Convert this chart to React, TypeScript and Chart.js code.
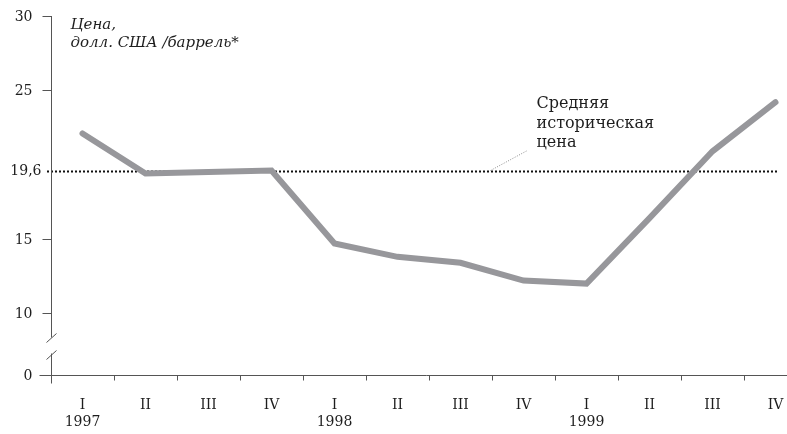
import React, { useEffect, useRef } from 'react';
import { Chart, registerables } from 'chart.js';

Chart.register(...registerables);

// ---- data ----
const quarters = ['I', 'II', 'III', 'IV', 'I', 'II', 'III', 'IV', 'I', 'II', 'III', 'IV'];
const years = ['1997', '', '', '', '1998', '', '', '', '1999', '', '', ''];
const prices = [22.1, 19.4, 19.5, 19.6, 14.7, 13.8, 13.4, 12.2, 12.0, 16.4, 20.9, 24.2];
const averagePrice = 19.6;
const yTickValues = [0, 10, 15, 19.6, 25, 30];
const yTickLabels = ['0', '10', '15', '19,6', '25', '30'];
const titleLines = ['Цена,', 'долл. США /баррель*'];
const annotationLines = ['Средняя', 'историческая', 'цена'];

// broken axis: values below BREAK_VALUE are drawn at ZERO_POSITION
const BREAK_VALUE = 10;
const ZERO_POSITION = 5.85;
const Y_MAX = 30;

const FONT = '"DejaVu Serif", serif';
const TEXT_COLOR = '#1e1e1e';
const AXIS_COLOR = '#555555';
const LINE_COLOR = '#97979b';

const mapValue = (v: number) => (v < BREAK_VALUE ? ZERO_POSITION : v);

const decorPlugin = {
  id: 'decor',
  beforeDatasetsDraw(chart: any) {
    const { ctx, scales } = chart;
    const x = scales.x;
    const y = scales.y;
    const axisX = chart.chartArea.left;
    const avgY = Math.round(y.getPixelForValue(averagePrice)) + 0.5;
    ctx.save();
    // dotted average line
    ctx.strokeStyle = '#111111';
    ctx.lineWidth = 2;
    ctx.setLineDash([2, 2]);
    ctx.beginPath();
    ctx.moveTo(axisX - 4, avgY);
    ctx.lineTo(x.getPixelForValue(prices.length - 1) + 2, avgY);
    ctx.stroke();
    // leader line to annotation
    const sx = x.getPixelForValue(6) + 30;
    ctx.strokeStyle = '#8a8a8a';
    ctx.lineWidth = 1;
    ctx.setLineDash([1, 1.5]);
    ctx.beginPath();
    ctx.moveTo(sx, avgY - 1);
    ctx.lineTo(sx + 36, 151);
    ctx.stroke();
    ctx.setLineDash([]);
    // annotation text
    ctx.fillStyle = TEXT_COLOR;
    ctx.font = `16px ${FONT}`;
    ctx.textAlign = 'left';
    ctx.textBaseline = 'alphabetic';
    annotationLines.forEach((t, i) => ctx.fillText(t, sx + 46, 108 + i * 19.5));
    ctx.restore();
  },
  afterDraw(chart: any) {
    const { ctx, scales, chartArea } = chart;
    const x = scales.x;
    const y = scales.y;
    const axisX = Math.round(chartArea.left) + 0.5;
    const zeroY = Math.round(y.getPixelForValue(ZERO_POSITION)) + 0.5;
    const topY = y.getPixelForValue(Y_MAX);
    const breakTop = zeroY - 38;
    const breakBottom = zeroY - 22;
    const band = x.width / quarters.length;
    ctx.save();
    ctx.strokeStyle = AXIS_COLOR;
    ctx.lineWidth = 1;
    // y axis with break
    ctx.beginPath();
    ctx.moveTo(axisX, topY);
    ctx.lineTo(axisX, breakTop);
    ctx.moveTo(axisX, breakBottom);
    ctx.lineTo(axisX, zeroY + 8);
    // break slashes
    ctx.moveTo(axisX - 5, breakTop + 5);
    ctx.lineTo(axisX + 5, breakTop - 4);
    ctx.moveTo(axisX - 5, breakBottom + 6);
    ctx.lineTo(axisX + 5, breakBottom - 3);
    // x axis
    ctx.moveTo(axisX - 12, zeroY);
    ctx.lineTo(chartArea.right + 10, zeroY);
    // x ticks between categories
    for (let i = 0; i < quarters.length; i++) {
      const px = Math.round(x.getPixelForValue(i) + band / 2) + 0.5;
      ctx.moveTo(px, zeroY);
      ctx.lineTo(px, zeroY + 5);
    }
    // y ticks
    yTickValues.forEach((v) => {
      if (v < BREAK_VALUE || v === averagePrice) return;
      const py = Math.round(y.getPixelForValue(mapValue(v))) + 0.5;
      ctx.moveTo(axisX - 9, py);
      ctx.lineTo(axisX, py);
    });
    ctx.stroke();
    // y labels
    ctx.fillStyle = TEXT_COLOR;
    ctx.font = `14px ${FONT}`;
    ctx.textAlign = 'right';
    ctx.textBaseline = 'middle';
    yTickValues.forEach((v, i) => {
      const py = y.getPixelForValue(mapValue(v));
      const right = v === averagePrice ? axisX - 10 : axisX - 19;
      ctx.fillText(yTickLabels[i], right, py + 1);
    });
    // title
    ctx.font = `italic 15px ${FONT}`;
    ctx.textAlign = 'left';
    ctx.textBaseline = 'alphabetic';
    titleLines.forEach((t, i) => ctx.fillText(t, axisX + 19, 29 + i * 18));
    ctx.restore();
  },
};

export default function App() {
  const canvasRef = useRef<HTMLCanvasElement | null>(null);

  useEffect(() => {
    const canvas = canvasRef.current;
    if (!canvas) return;
    const labels = quarters.map((q, i) => [q, years[i]]);
    const chart = new Chart(canvas, {
      type: 'line',
      data: {
        labels,
        datasets: [
          {
            data: prices.map(mapValue),
            borderColor: LINE_COLOR,
            borderWidth: 6,
            borderCapStyle: 'round',
            borderJoinStyle: 'miter',
            pointRadius: 0,
            tension: 0,
            fill: false,
          },
        ],
      },
      options: {
        animation: false,
        responsive: false,
        devicePixelRatio: 1,
        layout: { padding: { left: 51, top: 16, right: 5, bottom: 0 } },
        plugins: { legend: { display: false }, tooltip: { enabled: false } },
        scales: {
          x: {
            type: 'category',
            offset: true,
            grid: { display: false, drawTicks: false },
            border: { display: false },
            ticks: {
              autoSkip: false,
              maxRotation: 0,
              padding: 22,
              color: TEXT_COLOR,
              font: { family: FONT, size: 14 },
            },
            afterFit: (scale: any) => {
              scale.height = 59;
            },
          },
          y: {
            display: false,
            min: ZERO_POSITION,
            max: Y_MAX,
          },
        },
      },
      plugins: [decorPlugin],
    });
    return () => chart.destroy();
  }, []);

  return (
    <div
      style={{
        position: 'fixed',
        left: 0,
        top: 0,
        width: 787,
        height: 434,
        overflow: 'hidden',
        background: '#ffffff',
      }}
    >
      <canvas ref={canvasRef} width={812} height={434} style={{ display: 'block', width: 812, height: 434 }} />
    </div>
  );
}
